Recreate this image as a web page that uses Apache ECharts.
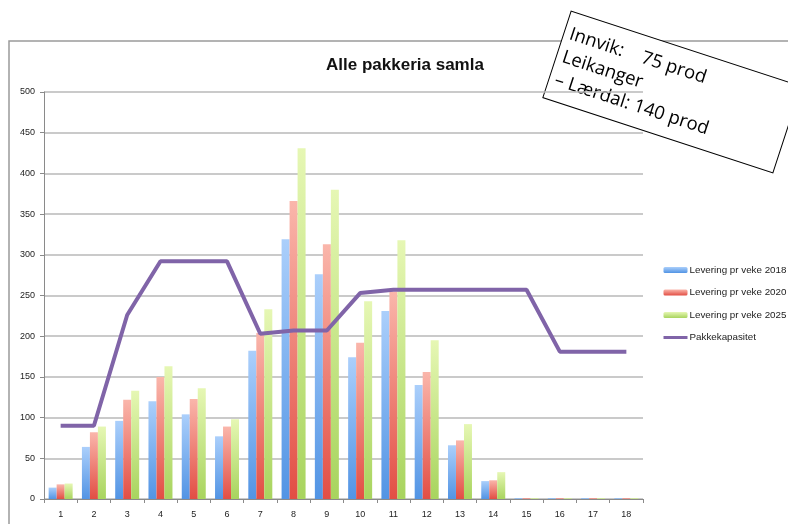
<!DOCTYPE html>
<html>
<head>
<meta charset="utf-8">
<script src="https://cdn.jsdelivr.net/npm/echarts@6/dist/echarts.min.js"></script>
<style>
html, body { margin: 0; padding: 0; background: #fff; }
#main { width: 788px; height: 524px; }
</style>
</head>
<body>
<div id="main"></div>
<script>
var weeks = ['1', '2', '3', '4', '5', '6', '7', '8', '9', '10', '11', '12', '13', '14', '15', '16', '17', '18'];
var lev2018 = [14, 64, 96, 120, 104, 77, 182, 319, 276, 174, 231, 140, 66, 22, 1, 1, 1, 1];
var lev2020 = [18, 82, 122, 150, 123, 89, 204, 366, 313, 192, 255, 156, 72, 23, 1, 1, 1, 1];
var lev2025 = [19, 89, 133, 163, 136, 98, 233, 431, 380, 243, 318, 195, 92, 33, 1, 1, 1, 1];
var kapasitet = [90, 90, 226, 292, 292, 292, 203, 207, 207, 253, 257, 257, 257, 257, 257, 181, 181, 181];

var myChart = echarts.init(document.getElementById('main'));

function grad(top, bottom) {
    return new echarts.graphic.LinearGradient(0, 0, 0, 1, [
        { offset: 0, color: top },
        { offset: 1, color: bottom }
    ]);
}

var txtFont = '"Open Sans", "Noto Sans", sans-serif';
var axisFont = 'Liberation Sans, Arial, sans-serif';

var option = {
    animation: false,
    backgroundColor: '#ffffff',
    title: {
        text: 'Alle pakkeria samla',
        left: 400,
        top: 52,
        textAlign: 'center',
        textStyle: { fontSize: 17, fontWeight: 'bold', color: '#111', fontFamily: axisFont }
    },
    legend: {
        orient: 'vertical',
        left: 657,
        top: 260,
        itemWidth: 24,
        itemHeight: 6,
        itemGap: 12.5,
        textStyle: { fontSize: 9.8, color: '#222', fontFamily: axisFont, padding: [0, 0, 0, -3] },
        data: [
            'Levering pr veke 2018',
            'Levering pr veke 2020',
            'Levering pr veke 2025',
            { name: 'Pakkekapasitet', itemStyle: { opacity: 0 }, lineStyle: { width: 3 } }
        ]
    },
    grid: { left: 44, right: 145, top: 92, bottom: 25 },
    xAxis: {
        type: 'category',
        data: weeks,
        axisLine: { lineStyle: { color: '#8a8a8a' } },
        axisTick: { show: true, alignWithLabel: false, length: 4, lineStyle: { color: '#8a8a8a' } },
        axisLabel: { color: '#222', fontSize: 9, margin: 11, fontFamily: axisFont }
    },
    yAxis: {
        type: 'value',
        min: 0,
        max: 500,
        interval: 50,
        axisLine: { show: true, lineStyle: { color: '#8a8a8a' } },
        axisTick: { show: true, length: 4, lineStyle: { color: '#8a8a8a' } },
        axisLabel: { color: '#222', fontSize: 9, margin: 9, fontFamily: axisFont },
        splitLine: { lineStyle: { color: '#b8b8b8', width: 1.5 } }
    },
    series: [
        {
            name: 'Levering pr veke 2018',
            type: 'bar',
            barWidth: 8,
            barGap: '0%',
            itemStyle: { color: grad('#abcffb', '#5294e4') },
            data: lev2018
        },
        {
            name: 'Levering pr veke 2020',
            type: 'bar',
            barWidth: 8,
            barGap: '0%',
            itemStyle: { color: grad('#fab6ab', '#e24e44') },
            data: lev2020
        },
        {
            name: 'Levering pr veke 2025',
            type: 'bar',
            barWidth: 8,
            barGap: '0%',
            itemStyle: { color: grad('#e6f7b4', '#a8d45e') },
            data: lev2025
        },
        {
            name: 'Pakkekapasitet',
            type: 'line',
            symbol: 'none',
            z: 5,
            lineStyle: { color: '#8064a8', width: 4 },
            itemStyle: { color: '#8064a8' },
            data: kapasitet
        }
    ],
    graphic: [
        {
            type: 'rect',
            silent: true,
            z: -10,
            shape: { x: 9, y: 41, width: 800, height: 600 },
            style: { fill: 'none', stroke: '#9a9a9a', lineWidth: 1.5 }
        },
        {
            type: 'group',
            x: 672,
            y: 92,
            rotation: -0.316,
            z: 100,
            children: [
                {
                    type: 'rect',
                    shape: { x: -121, y: -45.5, width: 242, height: 91 },
                    style: { fill: '#ffffff', stroke: '#000000', lineWidth: 1 }
                },
                {
                    type: 'text',
                    x: -115,
                    y: -33,
                    style: { text: 'Innvik:    75 prod', font: '18.5px ' + txtFont, fill: '#000' }
                },
                {
                    type: 'text',
                    x: -115,
                    y: -9,
                    style: { text: 'Leikanger', font: '18.5px ' + txtFont, fill: '#000' }
                },
                {
                    type: 'text',
                    x: -115,
                    y: 15,
                    style: { text: '– Lærdal: 140 prod', font: '18.5px ' + txtFont, fill: '#000' }
                }
            ]
        }
    ]
};

myChart.setOption(option);
</script>
</body>
</html>
